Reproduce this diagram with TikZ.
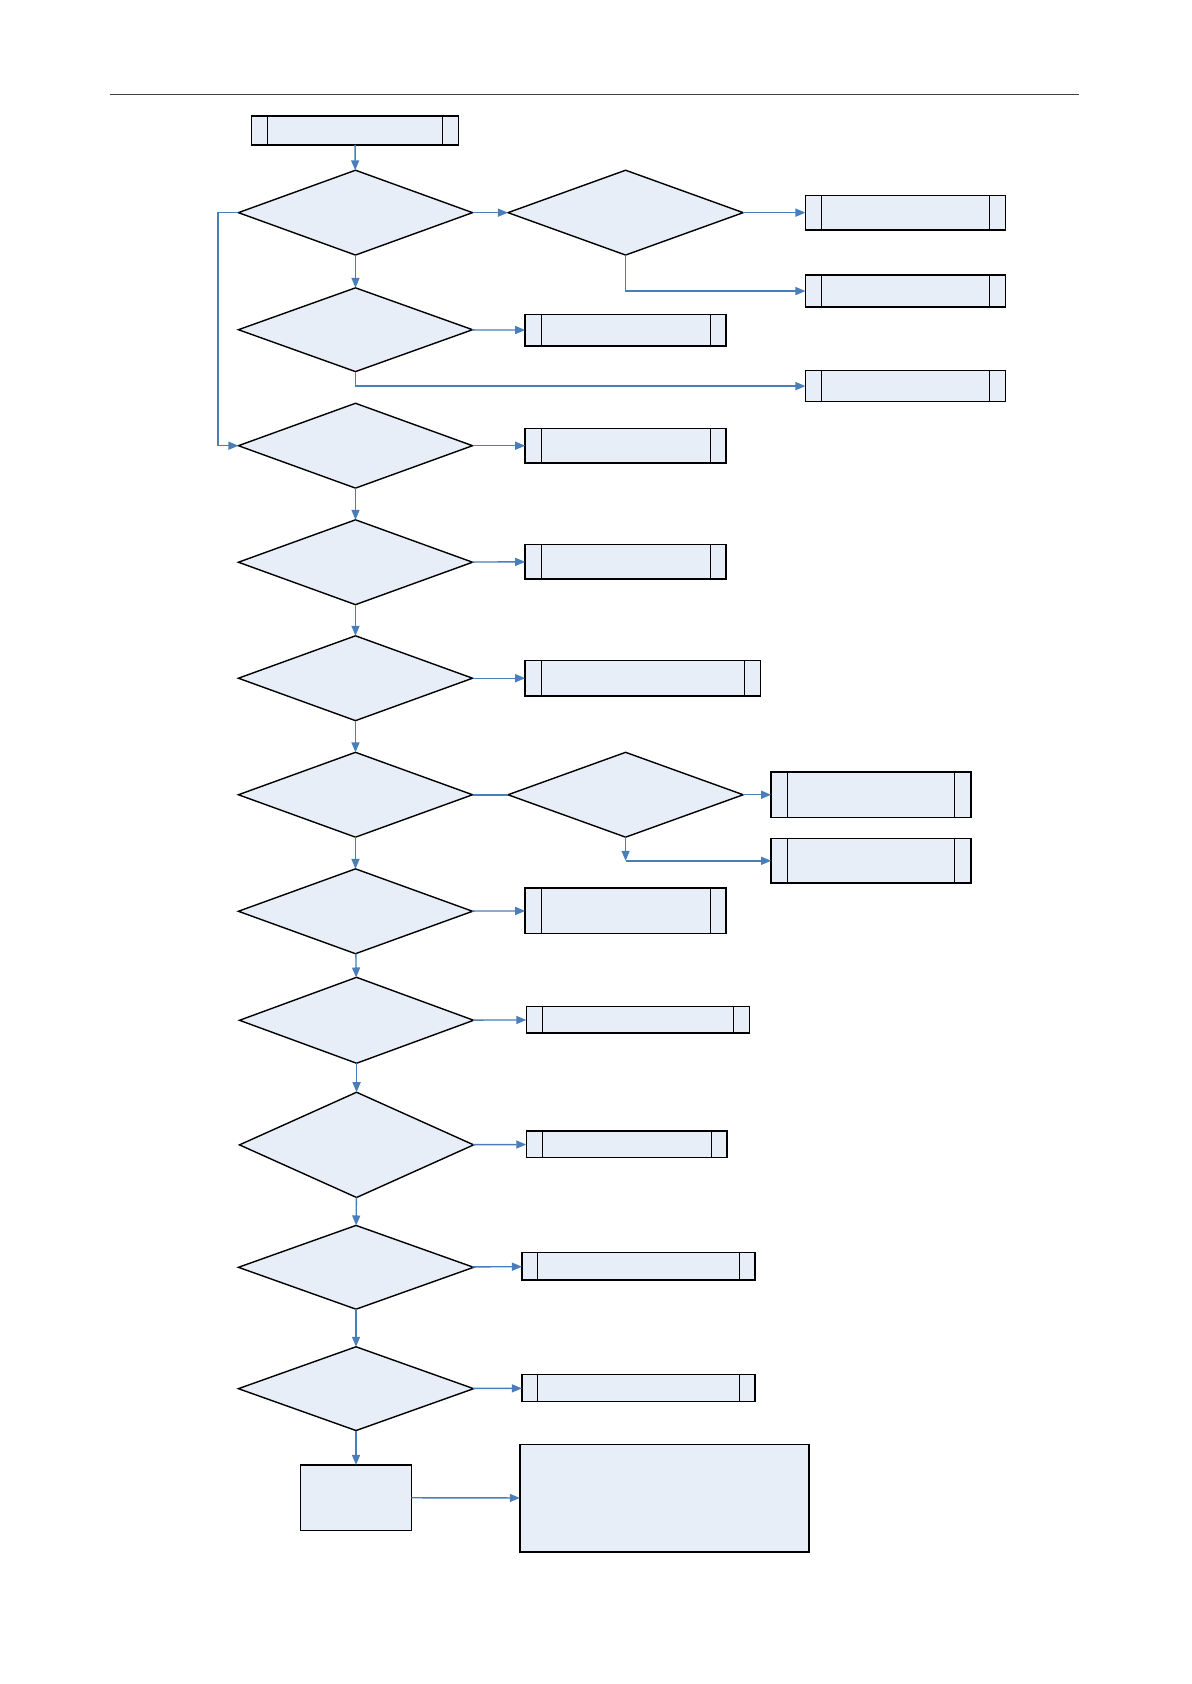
\documentclass[tikz,border=0pt]{standalone}
\usetikzlibrary{shapes.geometric,arrows.meta}
\definecolor{boxfill}{HTML}{E8EEF7}
\definecolor{arrblue}{HTML}{4A7EBB}
\begin{document}
\begin{tikzpicture}[x=1.07394pt,y=-1.07394pt,
  base/.style={draw=black,fill=boxfill,inner sep=0pt,outer sep=0pt,line width=1.4pt},
  dia/.style={base,diamond,minimum width=#1*1.07394pt},
  pbox/.style={base,minimum width=#1*1.07394pt,
    path picture={
      \draw[line width=1pt] ([xshift=16pt]path picture bounding box.north west) -- ([xshift=16pt]path picture bounding box.south west);
      \draw[line width=1pt] ([xshift=-16pt]path picture bounding box.north east) -- ([xshift=-16pt]path picture bounding box.south east);
    }},
  pbox/.default=187,
  plain/.style={base,minimum width=#1*1.07394pt},
  arr/.style={draw=arrblue,line width=1.4pt,-{Triangle[length=10pt,width=8pt]}},
  ln/.style={draw=arrblue,line width=1.8pt}
]
\useasboundingbox (0,0) rectangle (1109,1568);
\draw[line width=0.9pt,draw=black!75] (102,88) -- (1005,88);

% nodes
\node[pbox=193,minimum height=27*1.07394pt] (st) at (330.5,121.5) {};
\node[dia=218,minimum height=79*1.07394pt] (d1) at (331,198) {};
\node[dia=219,minimum height=79*1.07394pt] (d1b) at (582.5,198) {};
\node[pbox=186,minimum height=32*1.07394pt] (r1) at (843,198) {};
\node[pbox=186,minimum height=30*1.07394pt] (r2) at (843,271) {};
\node[dia=218,minimum height=78*1.07394pt] (d2) at (331,307) {};
\node[pbox,minimum height=29*1.07394pt] (b2) at (582.5,307.5) {};
\node[pbox=186,minimum height=29*1.07394pt] (r3) at (843,359.5) {};
\node[dia=218,minimum height=79*1.07394pt] (d3) at (331,415) {};
\node[pbox,minimum height=32*1.07394pt] (b3) at (582.5,415) {};
\node[dia=218,minimum height=79*1.07394pt] (d4) at (331,523.5) {};
\node[pbox,minimum height=32*1.07394pt] (b4) at (582.5,523) {};
\node[dia=218,minimum height=79*1.07394pt] (d5) at (331,631.5) {};
\node[pbox=219,minimum height=33*1.07394pt] (b5) at (598.5,631.5) {};
\node[dia=218,minimum height=79*1.07394pt] (d6) at (331,740) {};
\node[dia=219,minimum height=79*1.07394pt] (d6b) at (582.5,740) {};
\node[pbox=186,minimum height=42*1.07394pt] (r6a) at (811,740) {};
\node[pbox=186,minimum height=41*1.07394pt] (r6b) at (811,801.5) {};
\node[dia=218,minimum height=79*1.07394pt] (d7) at (331,848.5) {};
\node[pbox,minimum height=42*1.07394pt] (b7) at (582.5,848) {};
\node[dia=218,minimum height=80*1.07394pt] (d8) at (332,950) {};
\node[pbox=208,minimum height=25*1.07394pt] (b8) at (594,949.5) {};
\node[dia=218,minimum height=98*1.07394pt] (d9) at (332,1066) {};
\node[pbox,minimum height=25*1.07394pt] (b9) at (583.5,1065.5) {};
\node[dia=219,minimum height=78*1.07394pt] (d10) at (331.5,1180) {};
\node[pbox=217,minimum height=26*1.07394pt] (b10) at (594.5,1179) {};
\node[dia=219,minimum height=78*1.07394pt] (d11) at (331.5,1293) {};
\node[pbox=217,minimum height=25*1.07394pt] (b11) at (594.5,1292.5) {};
\node[plain=103,minimum height=61*1.07394pt] (f1) at (331.5,1394.5) {};
\node[plain=269,minimum height=100*1.07394pt,line width=1.8pt] (f2) at (618.5,1395) {};
\coordinate (c6) at (582.5,801.5);

% connectors
\draw[arr] (st) -- (d1);
\draw[arr] (d1) -- (d1b);
\draw[arr] (d1b) -- (r1);
\draw[arr] (d1b.south) |- (r2.west);
\draw[arr] (d1) -- (d2);
\draw[arr] (d2) -- (b2);
\draw[arr] (d2.south) |- (r3.west);
\draw[arr] (d1.west) -- ++(-19,0) |- (d3.west);
\draw[arr] (d3) -- (b3);
\draw[arr] (d3) -- (d4);
\draw[arr] (d4) -- (b4);
\draw[arr] (d4) -- (d5);
\draw[arr] (d5) -- (b5);
\draw[arr] (d5) -- (d6);
\draw[ln] (d6) -- (d6b);
\draw[arr] (d6b) -- (r6a);
\draw[arr] (d6b.south) -- (c6);
\draw[arr] (c6) -- (r6b.west);
\draw[arr] (d6) -- (d7);
\draw[arr] (d7) -- (b7);
\draw[arr] (d7) -- (d8);
\draw[arr] (d8) -- (b8);
\draw[arr] (d8) -- (d9);
\draw[arr] (d9) -- (b9);
\draw[arr] (d9) -- (d10);
\draw[arr] (d10) -- (b10);
\draw[arr] (d10) -- (d11);
\draw[arr] (d11) -- (b11);
\draw[arr] (d11) -- (f1);
\draw[arr] (f1) -- (f2);
\end{tikzpicture}
\end{document}
